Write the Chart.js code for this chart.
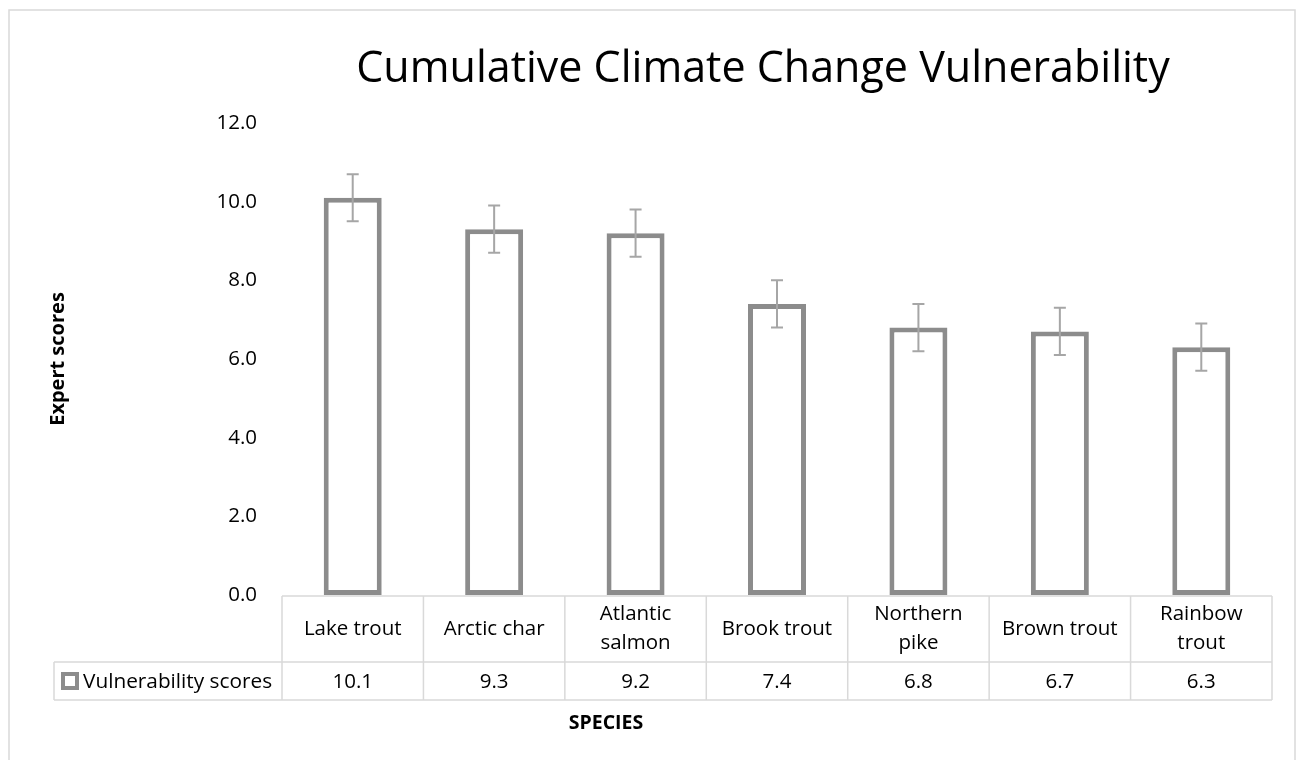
<!DOCTYPE html>
<html>
<head>
<meta charset="utf-8">
<title>Cumulative Climate Change Vulnerability</title>
<script src="https://cdn.jsdelivr.net/npm/chart.js@4.4.0/dist/chart.umd.min.js"></script>
<style>
  html, body { margin: 0; padding: 0; background: #fff; }
  #wrap { width: 1298px; height: 760px; position: relative; }
</style>
</head>
<body>
<div id="wrap"><canvas id="chart"></canvas></div>
<script>
// data
const species = ["Lake trout", "Arctic char", ["Atlantic", "salmon"], "Brook trout",
                 ["Northern", "pike"], "Brown trout", ["Rainbow", "trout"]];
const scores = [10.1, 9.3, 9.2, 7.4, 6.8, 6.7, 6.3];
const errors = [0.6, 0.6, 0.6, 0.6, 0.6, 0.6, 0.6];
const seriesName = "Vulnerability scores";
const chartTitle = "Cumulative Climate Change Vulnerability";
const xTitle = "SPECIES";
const yTitle = "Expert scores";

const FONT = "'Open Sans', 'Liberation Sans', sans-serif";
const BAR_GREY = "#8c8c8c";
const ERR_GREY = "#a6a6a6";
const LINE_GREY = "#d9d9d9";

// title, outer frame, error bars, data table
const extras = {
  id: "extras",
  afterDatasetsDraw(chart) {
    const ctx = chart.ctx;
    const y = chart.scales.y;
    const meta = chart.getDatasetMeta(0);
    ctx.save();
    ctx.strokeStyle = ERR_GREY;
    ctx.lineWidth = 2;
    meta.data.forEach((bar, i) => {
      const top = y.getPixelForValue(scores[i] + errors[i]);
      const bot = y.getPixelForValue(scores[i] - errors[i]);
      ctx.beginPath();
      ctx.moveTo(bar.x, top); ctx.lineTo(bar.x, bot);
      ctx.moveTo(bar.x - 6, top); ctx.lineTo(bar.x + 6, top);
      ctx.moveTo(bar.x - 6, bot); ctx.lineTo(bar.x + 6, bot);
      ctx.stroke();
    });
    ctx.restore();
  },
  afterDraw(chart) {
    const ctx = chart.ctx;
    const area = chart.chartArea;
    const n = species.length;
    const colW = (area.right - area.left) / n;
    ctx.save();

    // outer frame
    ctx.strokeStyle = LINE_GREY;
    ctx.lineWidth = 1.5;
    ctx.strokeRect(9, 10, 1286, 770);

    // title
    ctx.fillStyle = "#000";
    ctx.font = "40px " + FONT;
    const w40 = ctx.measureText(chartTitle).width;
    const size = 40 * 813 / w40;
    ctx.font = size.toFixed(1) + "px " + FONT;
    ctx.textAlign = "center";
    ctx.textBaseline = "alphabetic";
    ctx.fillText(chartTitle, 763, 82);

    // data table
    const rowTop = area.bottom + 1;
    const rowMid = 662;
    const rowBot = 700;
    const legLeft = 54;
    ctx.strokeStyle = LINE_GREY;
    ctx.lineWidth = 1.5;
    ctx.beginPath();
    ctx.moveTo(area.left, rowTop); ctx.lineTo(area.right, rowTop);
    ctx.moveTo(legLeft, rowMid); ctx.lineTo(area.right, rowMid);
    ctx.moveTo(legLeft, rowBot); ctx.lineTo(area.right, rowBot);
    ctx.moveTo(legLeft, rowMid); ctx.lineTo(legLeft, rowBot);
    for (let i = 0; i <= n; i++) {
      const x = area.left + i * colW;
      ctx.moveTo(x, rowTop); ctx.lineTo(x, rowBot);
    }
    ctx.stroke();

    ctx.fillStyle = "#000";
    ctx.font = "20.5px " + FONT;
    ctx.textAlign = "center";
    ctx.textBaseline = "middle";
    species.forEach((lab, i) => {
      const cx = area.left + (i + 0.5) * colW;
      const lines = Array.isArray(lab) ? lab : [lab];
      const lh = 29;
      const cy = (rowTop + rowMid) / 2;
      lines.forEach((t, k) => {
        ctx.fillText(t, cx, cy + (k - (lines.length - 1) / 2) * lh);
      });
      ctx.fillText(scores[i].toFixed(1), cx, (rowMid + rowBot) / 2 + 1);
    });

    // legend key + series name
    const ky = (rowMid + rowBot) / 2;
    ctx.fillStyle = BAR_GREY;
    ctx.fillRect(61, ky - 9, 18, 18);
    ctx.fillStyle = "#fff";
    ctx.fillRect(65, ky - 5, 10, 10);
    ctx.fillStyle = "#000";
    ctx.textAlign = "left";
    ctx.font = "20.8px " + FONT;
    ctx.fillText(seriesName, 83, ky + 1);

    // x axis title
    ctx.font = "bold 19.5px " + FONT;
    ctx.textAlign = "center";
    ctx.fillText(xTitle, 606, 723);
    ctx.restore();
  }
};

new Chart(document.getElementById("chart"), {
  type: "bar",
  data: {
    labels: species,
    datasets: [{
      label: seriesName,
      data: scores,
      backgroundColor: "#ffffff",
      borderColor: BAR_GREY,
      borderWidth: 5,
      borderSkipped: false,
      categoryPercentage: 1,
      barPercentage: 0.41
    }]
  },
  options: {
    responsive: true,
    maintainAspectRatio: false,
    animation: false,
    layout: { padding: { top: 123, right: 26, bottom: 165, left: 0 } },
    plugins: {
      legend: { display: false },
      tooltip: { enabled: false },
      title: { display: false }
    },
    scales: {
      x: { display: false },
      y: {
        min: 0,
        max: 12,
        border: { display: false },
        grid: { display: false, drawTicks: false },
        ticks: {
          stepSize: 2,
          padding: 25,
          color: "#000",
          font: { family: FONT, size: 20.5 },
          callback: (v) => v.toFixed(1)
        },
        title: {
          display: true,
          text: yTitle,
          color: "#000",
          font: { family: FONT, size: 20, weight: "bold" },
          padding: { top: 46, bottom: 0 }
        },
        afterFit(scale) { scale.width = 282; }
      }
    }
  },
  plugins: [extras]
});
</script>
</body>
</html>
